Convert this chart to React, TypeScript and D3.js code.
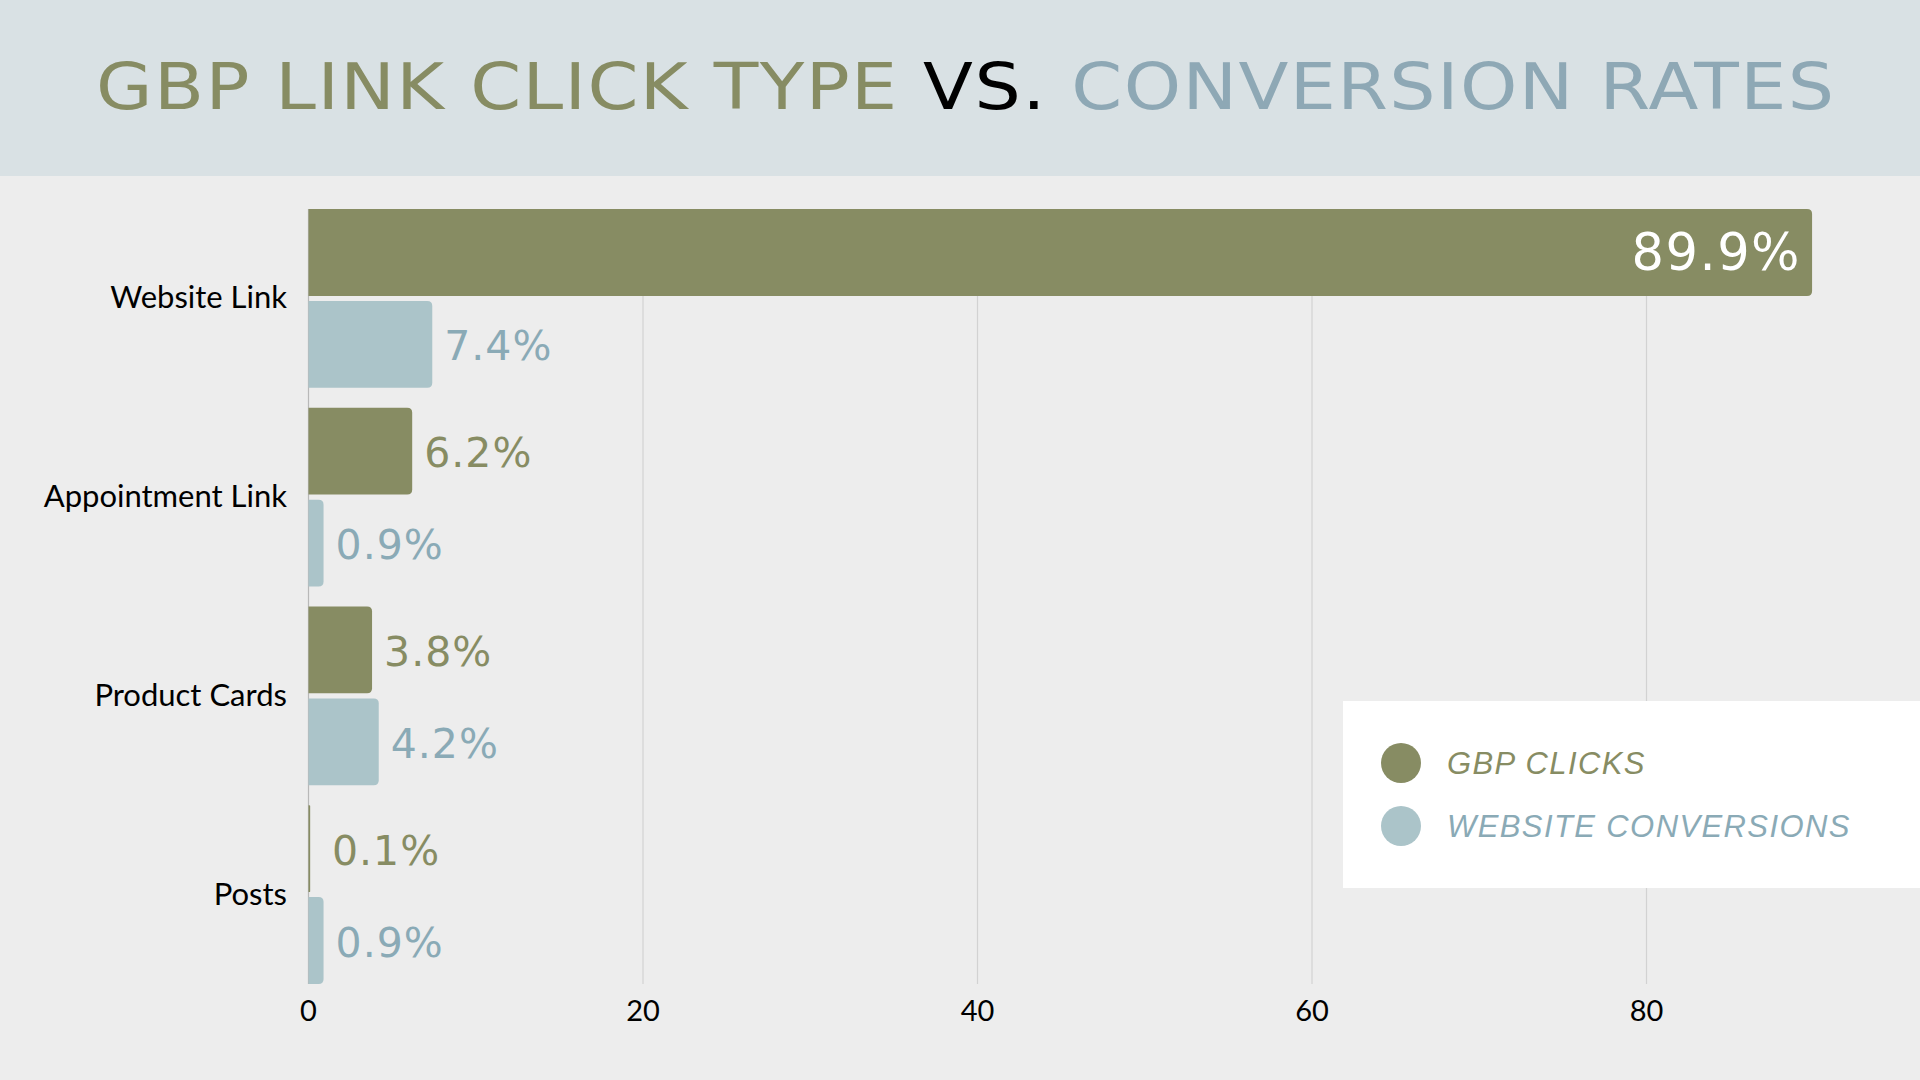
import * as d3 from "d3";

const categories = ["Website Link", "Appointment Link", "Product Cards", "Posts"];
const gbpClicks = [89.9, 6.2, 3.8, 0.1];
const websiteConversions = [7.4, 0.9, 4.2, 0.9];
const xTicks = [0, 20, 40, 60, 80];
const seriesNames = ["GBP CLICKS", "WEBSITE CONVERSIONS"];

const W = 1920;
const H = 1080;
const GREEN = "#878c63";
const BLUE_BAR = "#abc4c9";
const BLUE_TEXT = "#8aaab6";
const TITLE_STRETCH = 1.14;

// bar with rounded right corners only
function barPath(x0: number, x1: number, y: number, h: number, r = 5) {
  const rr = Math.min(r, (x1 - x0) / 2, h / 2);
  return `M${x0},${y}H${x1 - rr}Q${x1},${y} ${x1},${y + rr}V${y + h - rr}Q${x1},${y + h} ${x1 - rr},${y + h}H${x0}Z`;
}

export default function App() {
  const x = d3.scaleLinear().domain([0, 20]).range([308.5, 643]);
  const y = d3
    .scaleBand<string>()
    .domain(categories)
    .range([199.1, 993.9])
    .paddingInner(0.1)
    .paddingOuter(0.05);
  const inner = d3
    .scaleBand<string>()
    .domain(seriesNames)
    .range([0, y.bandwidth()])
    .paddingInner(0.055);

  const series = [
    { name: seriesNames[0], values: gbpClicks, fill: GREEN, text: GREEN },
    { name: seriesNames[1], values: websiteConversions, fill: BLUE_BAR, text: BLUE_TEXT },
  ];

  const plotTop = y(categories[0])!;
  const plotBottom = y(categories[categories.length - 1])! + y.bandwidth();
  const bh = inner.bandwidth();

  return (
    <svg
      width={W}
      height={H}
      viewBox={`0 0 ${W} ${H}`}
      style={{ position: "absolute", top: 0, left: 0, display: "block" }}
    >
      <rect x={0} y={0} width={W} height={H} fill="#ededed" />
      <rect x={0} y={0} width={W} height={176} fill="#d9e1e4" />

      {/* title, glyphs stretched a little to get the wide look */}
      <text
        transform={`scale(${TITLE_STRETCH},1)`}
        x={96 / TITLE_STRETCH}
        y={109}
        fontFamily="DejaVu Sans, sans-serif"
        fontSize={64}
        textLength={1738 / TITLE_STRETCH}
        lengthAdjust="spacing"
      >
        <tspan fill={GREEN}>GBP LINK CLICK TYPE </tspan>
        <tspan fill="#000">VS. </tspan>
        <tspan fill="#8ea8b5">CONVERSION RATES</tspan>
      </text>

      {/* gridlines */}
      {xTicks.map((t) => (
        <line
          key={t}
          x1={x(t)}
          x2={x(t)}
          y1={plotTop}
          y2={plotBottom}
          stroke={t === 0 ? "#b8b8b8" : "#d2d2d2"}
          strokeWidth={1.2}
        />
      ))}

      {/* x tick labels */}
      {xTicks.map((t) => (
        <text
          key={`t${t}`}
          x={x(t)}
          y={1021}
          textAnchor="middle"
          fontFamily="Lato, sans-serif"
          fontSize={29}
          fill="#000"
        >
          {t}
        </text>
      ))}

      {/* category labels */}
      {categories.map((c) => (
        <text
          key={c}
          x={287}
          y={y(c)! + y.bandwidth() / 2 + 10}
          textAnchor="end"
          fontFamily="Lato, sans-serif"
          fontSize={31}
          fill="#000"
        >
          {c}
        </text>
      ))}

      {/* bars */}
      {categories.map((c, i) =>
        series.map((s) => {
          const v = s.values[i];
          const by = y(c)! + inner(s.name)!;
          const x1 = x(v);
          const inside = v > 50;
          const label = `${v.toFixed(1)}%`;
          return (
            <g key={`${c}-${s.name}`}>
              <path d={barPath(x(0), x1, by, bh)} fill={s.fill} />
              {inside ? (
                <text
                  x={x1 - 11}
                  y={by + bh / 2 + 18}
                  textAnchor="end"
                  fontFamily="DejaVu Sans, sans-serif"
                  fontSize={51}
                  letterSpacing={1.5}
                  fill="#fff"
                >
                  {label}
                </text>
              ) : (
                <text
                  x={Math.max(x1 + 12, 332)}
                  y={by + bh / 2 + 16}
                  fontFamily="DejaVu Sans, sans-serif"
                  fontSize={41}
                  letterSpacing={1}
                  fill={s.text}
                >
                  {label}
                </text>
              )}
            </g>
          );
        })
      )}

      {/* legend */}
      <rect x={1343} y={701} width={W - 1343} height={187} fill="#ffffff" />
      {series.map((s, i) => (
        <g key={`lg${i}`} transform={`translate(1401,${763 + i * 63})`}>
          <circle cx={0} cy={0} r={20} fill={s.fill} />
          <text
            x={46}
            y={11}
            fontFamily="Liberation Sans, Arial, sans-serif"
            fontStyle="italic"
            fontSize={31}
            letterSpacing={1.4}
            fill={s.text}
          >
            {s.name}
          </text>
        </g>
      ))}
    </svg>
  );
}
